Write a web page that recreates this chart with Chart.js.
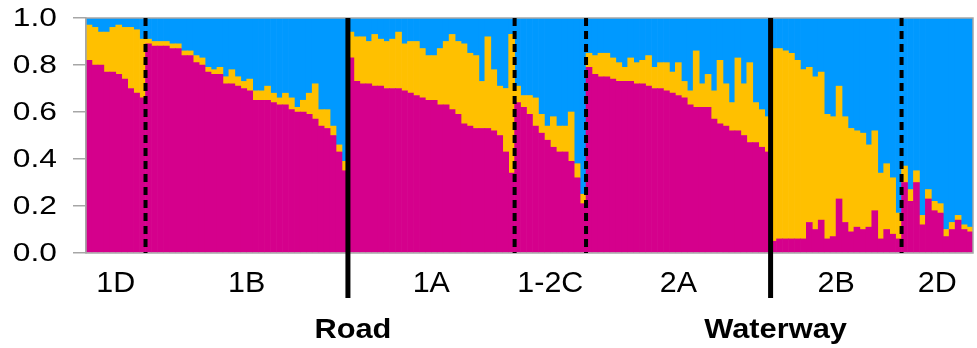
<!DOCTYPE html>
<html>
<head>
<meta charset="utf-8">
<script src="https://cdn.jsdelivr.net/npm/chart.js@4/dist/chart.umd.min.js"></script>
<style>
  html, body { margin: 0; padding: 0; background: #ffffff; }
  #wrap { width: 977px; height: 348px; }
</style>
</head>
<body>
<div id="wrap"><canvas id="c" width="977" height="348"></canvas></div>
<script>
// Sampled populations, in plot order, and the number of individuals in each
const populations = ['1D', '1B', '1A', '1-2C', '2A', '2B', '2D'];
const groupSizes  = [10, 34, 28, 12, 31, 22, 12];

// Landscape barriers: drawn as a solid line after the named population
const barriers = [
  { after: '1B', name: 'Road' },
  { after: '2A', name: 'Waterway' }
];

// Cluster membership (q) per individual: pink cluster
const qPink = [
  // 1D
  0.82, 0.80, 0.80, 0.77, 0.77, 0.76, 0.74, 0.70, 0.68, 0.66,
  // 1B
  0.89, 0.88, 0.88, 0.88, 0.87, 0.87, 0.84, 0.84, 0.81, 0.80,
  0.77, 0.76, 0.76, 0.72, 0.72, 0.71, 0.70, 0.69, 0.65, 0.65,
  0.65, 0.64, 0.63, 0.63, 0.61, 0.60, 0.60, 0.59, 0.57, 0.54,
  0.53, 0.50, 0.43, 0.35,
  // 1A
  0.83, 0.73, 0.72, 0.72, 0.71, 0.71, 0.70, 0.70, 0.70, 0.69,
  0.68, 0.67, 0.66, 0.65, 0.65, 0.63, 0.63, 0.61, 0.59, 0.55,
  0.54, 0.53, 0.53, 0.53, 0.52, 0.50, 0.43, 0.34,
  // 1-2C
  0.64, 0.62, 0.59, 0.54, 0.51, 0.48, 0.45, 0.43, 0.43, 0.39,
  0.32, 0.21,
  // 2A
  0.79, 0.76, 0.75, 0.75, 0.74, 0.73, 0.73, 0.73, 0.72, 0.72,
  0.71, 0.70, 0.70, 0.69, 0.68, 0.67, 0.66, 0.63, 0.62, 0.62,
  0.62, 0.57, 0.55, 0.54, 0.52, 0.52, 0.50, 0.47, 0.47, 0.45,
  0.43,
  // 2B
  0.05, 0.06, 0.06, 0.06, 0.06, 0.06, 0.13, 0.10, 0.14, 0.06,
  0.07, 0.23, 0.13, 0.09, 0.11, 0.10, 0.11, 0.18, 0.06, 0.10,
  0.08, 0.06,
  // 2D
  0.30, 0.22, 0.30, 0.12, 0.23, 0.18, 0.17, 0.07, 0.10, 0.14,
  0.10, 0.09
];

// Cluster membership (q) per individual: yellow cluster
const qYellow = [
  // 1D
  0.15, 0.16, 0.14, 0.17, 0.19, 0.21, 0.22, 0.26, 0.27, 0.25,
  // 1B
  0.02, 0.02, 0.02, 0.02, 0.02, 0.02, 0.02, 0.02, 0.03, 0.03,
  0.02, 0.02, 0.03, 0.03, 0.06, 0.04, 0.03, 0.05, 0.04, 0.04,
  0.06, 0.04, 0.03, 0.05, 0.05, 0.02, 0.05, 0.09, 0.15, 0.07,
  0.08, 0.04, 0.03, 0.04,
  // 1A
  0.11, 0.19, 0.20, 0.18, 0.22, 0.20, 0.20, 0.21, 0.24, 0.20,
  0.22, 0.23, 0.21, 0.19, 0.19, 0.24, 0.27, 0.32, 0.31, 0.34,
  0.31, 0.31, 0.20, 0.39, 0.26, 0.21, 0.27, 0.59,
  // 1-2C
  0.07, 0.05, 0.08, 0.12, 0.08, 0.06, 0.13, 0.11, 0.11, 0.21,
  0.06, 0.04,
  // 2A
  0.06, 0.08, 0.10, 0.10, 0.09, 0.08, 0.06, 0.10, 0.09, 0.10,
  0.13, 0.09, 0.11, 0.12, 0.09, 0.14, 0.07, 0.06, 0.24, 0.10,
  0.14, 0.12, 0.27, 0.18, 0.12, 0.31, 0.22, 0.34, 0.17, 0.16,
  0.15,
  // 2B
  0.82, 0.81, 0.80, 0.79, 0.76, 0.72, 0.66, 0.65, 0.63, 0.53,
  0.51, 0.48, 0.45, 0.44, 0.41, 0.41, 0.35, 0.34, 0.28, 0.28,
  0.24, 0.11,
  // 2D
  0.07, 0.05, 0.05, 0.04, 0.04, 0.04, 0.04, 0.03, 0.03, 0.02,
  0.02, 0.02
];

// Blue cluster takes the remainder of each individual's membership
const qBlue = qPink.map((p, i) => +(1 - p - qYellow[i]).toFixed(3));

// Y axis tick values
const yTicks = [0, 0.2, 0.4, 0.6, 0.8, 1.0];

const COLORS = { pink: '#D5008C', yellow: '#FFC000', blue: '#0099FF' };
const FONT = "'Liberation Sans', Arial, sans-serif";

// one category per individual
const individuals = qPink.map((_, i) => 'ind' + (i + 1));

// start index of each population
const groupStarts = [];
groupSizes.reduce((acc, n) => { groupStarts.push(acc); return acc + n; }, 0);

// text drawn with a slight horizontal stretch
function drawText(ctx, text, x, y, font, align, sx) {
  ctx.save();
  ctx.translate(x, y);
  ctx.scale(sx, 1);
  ctx.font = font;
  ctx.fillStyle = '#000';
  ctx.textAlign = align;
  ctx.textBaseline = 'middle';
  ctx.fillText(text, 0, 0);
  ctx.restore();
}

const structurePlugin = {
  id: 'structureAnnotations',
  afterDatasetsDraw(chart) {
    const { ctx, chartArea: a, scales: { x, y } } = chart;
    const boundaryPx = idx => (x.getPixelForValue(idx - 1) + x.getPixelForValue(idx)) / 2;

    // plot frame
    ctx.save();
    ctx.strokeStyle = '#A6A6A6';
    ctx.lineWidth = 1.5;
    ctx.strokeRect(a.left, a.top, a.right - a.left, a.bottom - a.top);
    ctx.restore();

    // y tick labels
    y.ticks.forEach(t => {
      drawText(ctx, Number(t.value).toFixed(1), a.left - 29, y.getPixelForValue(t.value) + 1,
               '25px ' + FONT, 'right', 1.27);
    });

    // population boundaries
    const barrierAfter = barriers.map(b => populations.indexOf(b.after));
    for (let g = 0; g < populations.length - 1; g++) {
      const px = boundaryPx(groupStarts[g + 1]);
      ctx.save();
      ctx.strokeStyle = '#000';
      if (barrierAfter.includes(g)) {
        ctx.lineWidth = 5;
        ctx.beginPath();
        ctx.moveTo(px, a.top);
        ctx.lineTo(px, a.bottom + 45);
        ctx.stroke();
      } else {
        ctx.lineWidth = 4;
        ctx.setLineDash([8, 5]);
        ctx.beginPath();
        ctx.moveTo(px, a.top);
        ctx.lineTo(px, a.bottom);
        ctx.stroke();
      }
      ctx.restore();
    }

    // population names
    populations.forEach((p, g) => {
      const mid = groupStarts[g] + (groupSizes[g] - 1) / 2;
      drawText(ctx, p, x.getPixelForValue(mid), a.bottom + 31, '29px ' + FONT, 'center', 1.05);
    });

    // barrier names
    barriers.forEach(b => {
      const g = populations.indexOf(b.after);
      const px = boundaryPx(groupStarts[g + 1]);
      drawText(ctx, b.name, px + 5, a.bottom + 77, 'bold 28px ' + FONT, 'center', 1.1);
    });
  }
};

new Chart(document.getElementById('c'), {
  type: 'bar',
  data: {
    labels: individuals,
    datasets: [
      { label: 'Pink',   data: qPink,   backgroundColor: COLORS.pink },
      { label: 'Yellow', data: qYellow, backgroundColor: COLORS.yellow },
      { label: 'Blue',   data: qBlue,   backgroundColor: COLORS.blue }
    ]
  },
  options: {
    responsive: false,
    animation: false,
    devicePixelRatio: 1,
    layout: { padding: { left: 0, right: 4, top: 18, bottom: 95 } },
    datasets: { bar: { barPercentage: 1, categoryPercentage: 1, borderWidth: 0 } },
    plugins: { legend: { display: false }, tooltip: { enabled: false } },
    scales: {
      x: { stacked: true, display: false },
      y: {
        stacked: true,
        min: 0,
        max: 1,
        afterFit(scale) { scale.width = 86; },
        afterBuildTicks(scale) { scale.ticks = yTicks.map(v => ({ value: v })); },
        ticks: { display: false },
        grid: { drawOnChartArea: false, drawTicks: true, tickLength: 13, color: '#A6A6A6', lineWidth: 1.5 },
        border: { color: '#A6A6A6', width: 1.5 }
      }
    }
  },
  plugins: [structurePlugin]
});
</script>
</body>
</html>
